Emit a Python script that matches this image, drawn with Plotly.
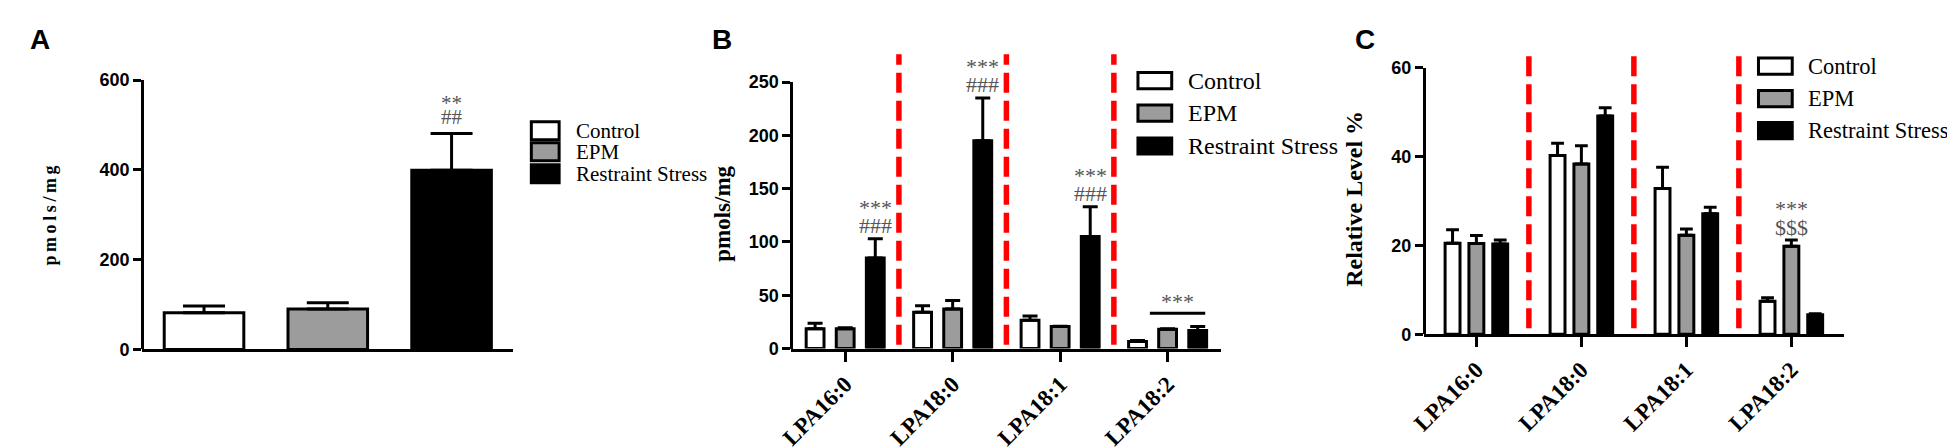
import plotly.graph_objects as go

groups = ["Control", "EPM", "Restraint Stress"]
lipids = ["LPA16:0", "LPA18:0", "LPA18:1", "LPA18:2"]

# A: total LPA (pmols/mg), mean and upper SEM
total_mean = [82, 90, 399]
total_sem = [15, 14, 82]

# B: LPA species (pmols/mg)
b_control = [18.5, 34, 26.6, 6.6]
b_control_sem = [5.1, 6, 3.9, 0.9]
b_epm = [18.5, 37, 20.6, 18]
b_epm_sem = [0.9, 8, 0.4, 0.5]
b_stress = [85, 195, 105, 17]
b_stress_sem = [18, 40, 28, 3.6]

# C: relative level %
c_control = [20.5, 40.2, 32.8, 7.4]
c_control_sem = [3, 2.8, 4.8, 0.8]
c_epm = [20.4, 38.3, 22.3, 19.8]
c_epm_sem = [1.8, 4.1, 1.4, 1.4]
c_stress = [20.3, 49.1, 27.1, 4.4]
c_stress_sem = [0.9, 1.9, 1.5, 0.2]

fills = ["white", "#9c9c9c", "black"]
W, H = 1955, 447


def px(x):
    return x / W


def py(y):
    return 1 - y / H


fig = go.Figure()

# panel A
for g, m, s, c in zip(groups, total_mean, total_sem, fills):
    fig.add_trace(go.Bar(x=[g], y=[m], width=0.643, marker=dict(color=c, line=dict(color="black", width=3)),
                         error_y=dict(type="data", array=[s], arrayminus=[0], symmetric=False,
                                      color="black", thickness=3, width=21),
                         cliponaxis=False, name=g, xaxis="x", yaxis="y"))

# panels B and C
panels = [
    ("x2", "y2", [b_control, b_epm, b_stress], [b_control_sem, b_epm_sem, b_stress_sem], 0.166, 0.28, 7.5),
    ("x3", "y3", [c_control, c_epm, c_stress], [c_control_sem, c_epm_sem, c_stress_sem], 0.142, 0.227, 6.4),
]
for xa, ya, vals, sems, w, step, cap in panels:
    for i, (g, v, s, c) in enumerate(zip(groups, vals, sems, fills)):
        fig.add_trace(go.Bar(x=lipids, y=v, width=w, offset=(i - 1) * step - w / 2,
                             marker=dict(color=c, line=dict(color="black", width=3)),
                             error_y=dict(type="data", array=s, arrayminus=[0] * len(s), symmetric=False,
                                          color="black", thickness=3, width=cap),
                             cliponaxis=False, name=g, xaxis=xa, yaxis=ya))

ytick_font = dict(family="Liberation Sans, Arial, sans-serif", size=18, color="black", weight="bold")
xtick_font = dict(family="Liberation Serif, Times New Roman, serif", size=23, color="black", weight="bold")
yax = dict(showline=True, linecolor="black", linewidth=3, ticks="outside", ticklen=8, tickwidth=3,
           tickcolor="black", showgrid=False, zeroline=False, tickfont=ytick_font, anchor="free")
xax = dict(showline=True, linecolor="black", linewidth=3, showgrid=False, zeroline=False)

fig.update_layout(
    width=W, height=H, margin=dict(l=0, r=0, t=0, b=0),
    paper_bgcolor="white", plot_bgcolor="white", showlegend=False, barmode="overlay",
    xaxis=dict(xax, domain=[px(121), px(495)], range=[-0.5, 2.5], showticklabels=False, ticks="", anchor="y"),
    yaxis=dict(yax, domain=[py(347), py(65)], range=[0, 600], tickvals=[0, 200, 400, 600], position=px(121)),
    xaxis2=dict(xax, domain=[px(775), px(1208)], range=[-0.5, 3.5], anchor="y2", ticks="outside",
                ticklen=10, tickwidth=3, tickcolor="black", tickangle=-45, tickfont=xtick_font),
    yaxis2=dict(yax, domain=[py(346), py(67)], range=[0, 250], dtick=50, position=px(775)),
    xaxis3=dict(xax, domain=[px(1412), px(1835)], range=[-0.5, 3.5], anchor="y3", ticks="outside",
                ticklen=10, tickwidth=3, tickcolor="black", tickangle=-45, tickfont=xtick_font),
    yaxis3=dict(yax, domain=[py(331), py(52)], range=[0, 60], dtick=20, position=px(1412)),
)

# red dashed separators between lipid groups
for xa, ya, y0, y1 in [("x2", "y2", 0.014, 1.104), ("x3", "y3", 0.022, 1.043)]:
    for i in range(len(lipids) - 1):
        fig.add_shape(type="line", xref=xa, yref=ya + " domain", x0=i + 0.5, x1=i + 0.5, y0=y0, y1=y1,
                      line=dict(color="#ff0000", width=5.5, dash="20px,8px"))

sig_font = dict(family="Liberation Serif, Times New Roman, serif", color="#555555")


def stack(upper, lower, xa, ya, x, y, shift, base, size=21):
    # two significance rows, tight line spacing via a small base font
    txt = '<span style="font-size:%dpx">%s</span><br><span style="font-size:%dpx">%s</span>' % (
        size, upper, size, lower)
    fig.add_annotation(text=txt, xref=xa, yref=ya, x=x, y=y, yshift=shift, showarrow=False,
                       yanchor="bottom", font=dict(sig_font, size=base))


# A significance
stack("**", "##", "x", "y", groups[2], total_mean[2] + total_sem[2], 3, 11)

# B significance
for i in range(3):
    stack("***", "###", "x2", "y2", i + 0.28, b_stress[i] + b_stress_sem[i], -1, 14, 22)
fig.add_shape(type="line", xref="x2", yref="y2", x0=3 - 0.165, x1=3 + 0.35, y0=33, y1=33,
              line=dict(color="black", width=3))
fig.add_annotation(text="***", xref="x2", yref="y2", x=3.09, y=33, yshift=12, showarrow=False,
                   yanchor="middle", font=dict(sig_font, size=22))

# C significance
stack("***", "$$$", "x3", "y3", 3, c_epm[3] + c_epm_sem[3], -2, 14.5, 22)

# axis titles
title_font = dict(family="Liberation Serif, Times New Roman, serif", color="black", weight="bold")
for text, x, y, size in [("p\u2009m\u2009o\u2009l\u2009s\u2009/\u2009m\u2009g", 16, 207, 18),
                         ("pmols/mg", 706, 205, 23),
                         ("Relative Level %", 1356, 189, 24)]:
    fig.add_annotation(text=text, xref="paper", yref="paper", x=px(x), y=py(y), textangle=-90,
                       showarrow=False, font=dict(title_font, size=size))

# panel letters
for letter, x in [("A", 6), ("B", 693), ("C", 1341)]:
    fig.add_annotation(text=letter, xref="paper", yref="paper", x=px(x), y=py(4), xanchor="left",
                       yanchor="top", showarrow=False,
                       font=dict(family="Liberation Sans, Arial, sans-serif", size=28, color="black", weight="bold"))

# legends drawn as boxes + labels
legend_font = dict(family="Liberation Serif, Times New Roman, serif", color="black")
for bx0, bx1, centers, bh, tx, size in [(513, 541, [118, 140, 163], 19, 556, 21),
                                         (1124, 1158, [65.5, 99.5, 134], 17, 1172, 24),
                                         (1749, 1783, [50.5, 84.5, 118], 17, 1797, 22.5)]:
    for g, c, cy in zip(groups, fills, centers):
        fig.add_shape(type="rect", xref="paper", yref="paper", x0=px(bx0), x1=px(bx1),
                      y0=py(cy + bh / 2), y1=py(cy - bh / 2), fillcolor=c, line=dict(color="black", width=3))
        fig.add_annotation(text=g, xref="paper", yref="paper", x=px(tx), y=py(cy), xanchor="left",
                           yanchor="middle", showarrow=False, font=dict(legend_font, size=size))

fig.write_html("out.html")
